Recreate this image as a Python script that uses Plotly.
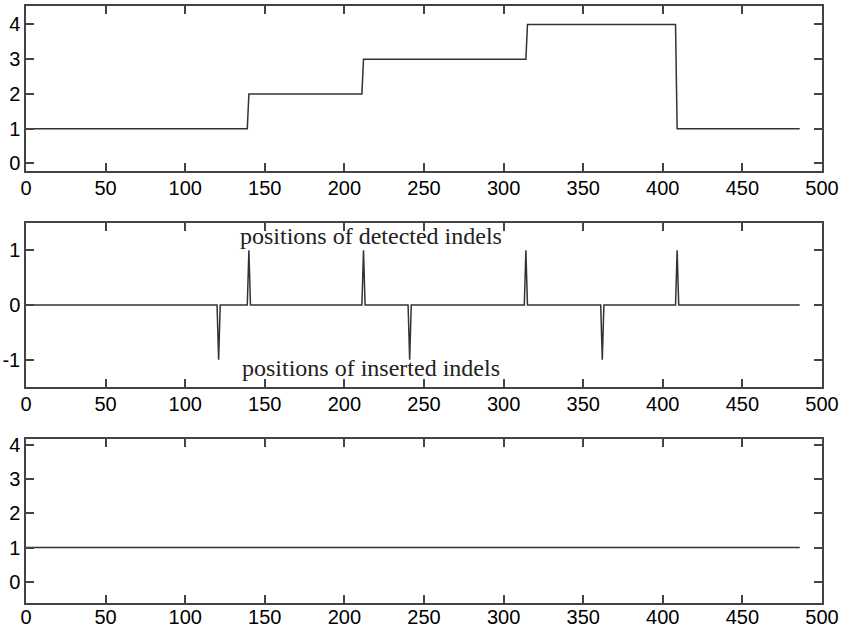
import plotly.graph_objects as go
from plotly.subplots import make_subplots

# Data
step_x = [0, 139, 140, 211, 212, 314, 315, 408, 409, 486]
step_y = [1, 1, 2, 2, 3, 3, 4, 4, 1, 1]

detected_pos = [140, 212, 314, 409]
inserted_pos = [121, 241, 362]

flat_x = [0, 486]
flat_y = [1, 1]

x_end = 486

x_ticks = [0, 50, 100, 150, 200, 250, 300, 350, 400, 450, 500]
y_ticks_level = [0, 1, 2, 3, 4]
y_ticks_spike = [-1, 0, 1]
y_ticktext_spike = ["-1", "0", "1"]

# build spike trace from positions
events = sorted([(p, 1) for p in detected_pos] + [(p, -1) for p in inserted_pos])
sx, sy = [0], [0]
for p, v in events:
    sx += [p - 1, p, p + 1]
    sy += [0, v, 0]
sx.append(x_end)
sy.append(0)

line_style = dict(color="#333333", width=1.5)

fig = make_subplots(rows=3, cols=1, vertical_spacing=0.0)
fig.add_trace(go.Scatter(x=step_x, y=step_y, mode="lines", line=line_style), row=1, col=1)
fig.add_trace(go.Scatter(x=sx, y=sy, mode="lines", line=line_style), row=2, col=1)
fig.add_trace(go.Scatter(x=flat_x, y=flat_y, mode="lines", line=line_style), row=3, col=1)

tickfont = dict(family="Liberation Sans, Arial, sans-serif", size=20, color="#000000")
common_x = dict(range=[0, 500], tickvals=x_ticks,
                ticks="inside", ticklen=8, tickcolor="#444444", tickwidth=1.5,
                showline=True, linecolor="#444444", linewidth=1.5, mirror="ticks",
                showgrid=False, zeroline=False, tickfont=tickfont, automargin=False)
common_y = dict(ticks="inside", ticklen=8, tickcolor="#444444", tickwidth=1.5,
                showline=True, linecolor="#444444", linewidth=1.5, mirror="ticks",
                showgrid=False, zeroline=False, tickfont=tickfont, automargin=False)

fig.update_layout(
    width=841, height=628,
    margin=dict(l=26, r=19, t=6, b=25),
    paper_bgcolor="white", plot_bgcolor="white",
    showlegend=False,
    xaxis=dict(domain=[0, 1], ticklabelstandoff=-2, **common_x),
    xaxis2=dict(domain=[0, 1], ticklabelstandoff=-2, **common_x),
    xaxis3=dict(domain=[0, 1], ticklabelstandoff=-5, **common_x),
    yaxis=dict(domain=[0.7236, 1.0], range=[-0.22, 4.53], tickvals=y_ticks_level, **common_y),
    yaxis2=dict(domain=[0.3618, 0.6365], range=[-1.5, 1.5], tickvals=y_ticks_spike,
                ticktext=y_ticktext_spike, **common_y),
    yaxis3=dict(domain=[0.0, 0.2747], range=[-0.62, 4.175], tickvals=y_ticks_level, **common_y),
)

serif = dict(family="Liberation Serif, Times New Roman, serif", size=24, color="#222222")
fig.add_annotation(x=217, y=1.10, xref="x2", yref="y2", text="positions of detected indels",
                   showarrow=False, font=serif, yanchor="bottom", yshift=-6)
fig.add_annotation(x=217, y=-1.31, xref="x2", yref="y2", text="positions of inserted indels",
                   showarrow=False, font=serif, yanchor="bottom", yshift=-6)

fig.write_html("out.html", config={"displayModeBar": False},
               post_script="document.body.style.margin='0';document.body.style.overflow='hidden';")
